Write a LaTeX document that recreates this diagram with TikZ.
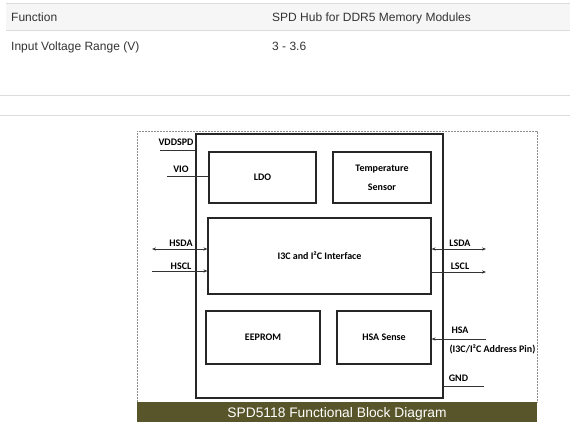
\documentclass[tikz,border=0pt]{standalone}
\usepackage{fontspec}
\setmainfont{Liberation Sans}
\newfontfamily\lblfont{Carlito}
\usetikzlibrary{arrows.meta}
\definecolor{barcol}{RGB}{88,85,42}
\definecolor{tabtext}{RGB}{51,51,51}
\definecolor{tabline}{RGB}{220,220,220}
\definecolor{tabfill}{RGB}{246,246,246}
\begin{document}
\begin{tikzpicture}[x=1pt,y=-1pt,
  blk/.style={draw=black!85, line width=1.1pt, inner sep=0pt, align=center,
    font=\lblfont\bfseries\fontsize{10}{19}\selectfont},
  pinlbl/.style={inner sep=0pt, font=\lblfont\bfseries\fontsize{10}{12}\selectfont},
  wire/.style={line width=0.7pt, draw=black!80},
  tipend/.style={-{Stealth[length=4pt,width=3.2pt]}},
  tipboth/.style={{Stealth[length=4pt,width=3.2pt]}-{Stealth[length=4pt,width=3.2pt]}},
  tabtxt/.style={anchor=base west, inner sep=0pt, text=tabtext, font=\fontsize{12}{14}\selectfont}
]
\useasboundingbox (0,0) rectangle (570,431);
% table
\fill[tabfill] (6,3) rectangle (570,30.5);
\draw[tabline, line width=0.8pt] (6,3) -- (570,3);
\draw[tabline, line width=0.8pt] (6,30.5) -- (570,30.5);
\draw[tabline, line width=0.8pt] (0,95) -- (570,95);
\draw[tabline, line width=0.8pt] (0,115.5) -- (570,115.5);
\node[tabtxt] (f1) at (11,21) {Function};
\node[tabtxt] (v1) at (272,21) {SPD Hub for DDR5 Memory Modules};
\node[tabtxt] (f2) at (11,50) {Input Voltage Range (V)};
\node[tabtxt] (v2) at (272,50) {3 - 3.6};
% frame and caption bar
\draw[black!45, line width=0.5pt, dash pattern=on 0.7pt off 0.8pt] (137,131) rectangle (537,402);
\fill[barcol] (137,402) rectangle (537,422);
\node[inner sep=0pt, anchor=base, text=white, font=\fontsize{13.8}{16}\selectfont] (cap) at (337,417) {SPD5118 Functional Block Diagram};
% blocks
\node[blk, minimum width=247pt, minimum height=264pt] (chip) at (319.5,266) {};
\node[blk, minimum width=107pt, minimum height=51pt] (ldo) at (262.5,177.5) {LDO};
\node[blk, minimum width=98pt, minimum height=51pt] (temp) at (382,177.5) {Temperature\\Sensor};
\node[blk, minimum width=223pt, minimum height=76pt] (i3c) at (319.5,256) {I3C and I²C Interface};
\node[blk, minimum width=114pt, minimum height=53pt] (eeprom) at (263,337.5) {EEPROM};
\node[blk, minimum width=94pt, minimum height=53pt] (hsa) at (384,337.5) {HSA Sense};
% pin endpoints
\coordinate (pvdd) at (160,150);
\coordinate (pvio) at (167,176);
\coordinate (phsda) at (152,249);
\coordinate (phscl) at (152,271);
\coordinate (plsda) at (486,249);
\coordinate (plscl) at (486,272);
\coordinate (phsa) at (486,339);
\coordinate (pgnd) at (484,386);
% connectors
\draw[wire] (pvdd) -- (pvdd -| chip.west);
\draw[wire] (pvio) -- (pvio -| ldo.west);
\draw[wire, tipboth] (phsda) -- (phsda -| i3c.west);
\draw[wire, tipend] (phscl) -- (phscl -| i3c.west);
\draw[wire, tipboth] (plsda -| i3c.east) -- (plsda);
\draw[wire, tipend] (plscl -| i3c.east) -- (plscl);
\draw[wire, tipend] (phsa) -- (phsa -| hsa.east);
\draw[wire] (pgnd -| chip.east) -- (pgnd);
% pin labels
\node[pinlbl] (lvdd) at (176,142) {VDDSPD};
\node[pinlbl] (lvio) at (181,169) {VIO};
\node[pinlbl] (lhsda) at (181,243) {HSDA};
\node[pinlbl] (lhscl) at (181,266) {HSCL};
\node[pinlbl] (llsda) at (460,243) {LSDA};
\node[pinlbl] (llscl) at (460,266) {LSCL};
\node[pinlbl] (lhsa) at (460,330) {HSA};
\node[pinlbl] (laddr) at (492.5,349) {(I3C/I²C Address Pin)};
\node[pinlbl] (lgnd) at (458.5,378) {GND};
\end{tikzpicture}
\end{document}
